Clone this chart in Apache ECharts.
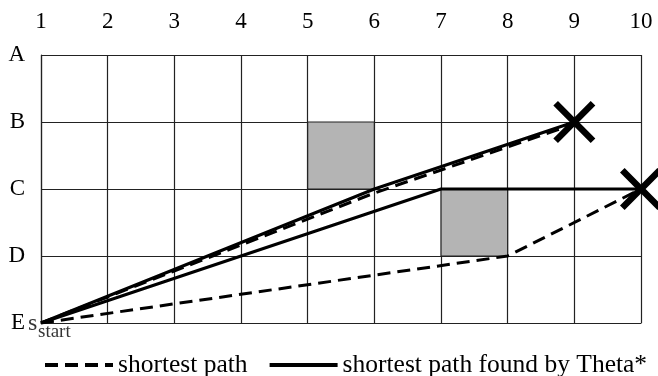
<!DOCTYPE html>
<html>
<head>
<meta charset="utf-8">
<script src="https://cdn.jsdelivr.net/npm/echarts@6/dist/echarts.min.js"></script>
<style>
  html, body { margin: 0; padding: 0; background: #fff; }
  #chart { width: 658px; height: 376px; }
</style>
</head>
<body>
<div id="chart"></div>
<script>
// Grid world: columns 1..10, rows E (0) .. A (4)
const columnLabels = ['1', '2', '3', '4', '5', '6', '7', '8', '9', '10'];
const rowLabels = ['E', 'D', 'C', 'B', 'A'];

// Blocked cells, given by their lower-left corner [column, row]
const blockedCells = [[5, 2], [7, 1]];

// Paths from the start vertex (column 1, row E)
const shortestPathToB9 = [[1, 0], [6, 1.94], [9, 2.97]];
const shortestPathToC10 = [[1, 0], [8, 1], [10, 2]];
const thetaPathToB9 = [[1, 0], [6, 2], [9, 3]];
const thetaPathToC10 = [[1, 0], [7, 2], [10, 2]];

// Goal vertices
const goals = [[9, 3], [10, 2]];
const startVertex = [1, 0];

const FONT = "'Liberation Serif', 'Times New Roman', serif";
const DASHED = 'shortest path';
const SOLID = 'shortest path found by Theta*';

// Thick "X" outline in a 100x100 box
const a = 11;
const crossPath = 'path://M' + [
  [a, 0], [50, 50 - a], [100 - a, 0], [100, a], [50 + a, 50], [100, 100 - a],
  [100 - a, 100], [50, 50 + a], [a, 100], [0, 100 - a], [50 - a, 50], [0, a]
].map(p => p.join(',')).join('L') + 'Z';

const chart = echarts.init(document.getElementById('chart'), null, { renderer: 'canvas' });

const gridLine = { show: true, lineStyle: { color: '#222', width: 1.2 } };

const option = {
  animation: false,
  textStyle: { fontFamily: FONT, color: '#000' },
  grid: { left: 41, right: 17, top: 55, bottom: 53, containLabel: false },
  xAxis: {
    type: 'value', position: 'top', min: 1, max: 10, interval: 1,
    axisLine: { show: true, lineStyle: { color: '#222', width: 1.2 } },
    axisTick: { show: false },
    splitLine: gridLine,
    axisLabel: {
      margin: 22, fontSize: 23, color: '#000', fontFamily: FONT,
      formatter: v => columnLabels[v - 1] || ''
    }
  },
  yAxis: {
    type: 'value', min: 0, max: 4, interval: 1,
    axisLine: { show: true, lineStyle: { color: '#222', width: 1.2 } },
    axisTick: { show: false },
    splitLine: gridLine,
    axisLabel: {
      margin: 16, fontSize: 23, color: '#000', fontFamily: FONT,
      formatter: v => rowLabels[v] || ''
    }
  },
  legend: {
    left: 43, top: 352, width: 640, padding: 0,
    itemWidth: 68, itemHeight: 14, itemGap: 20,
    data: [DASHED, SOLID],
    itemStyle: { opacity: 0 },
    lineStyle: { width: 4 },
    textStyle: { fontSize: 25.5, fontFamily: FONT, color: '#000' }
  },
  series: [
    {
      type: 'custom', z: 1, silent: true,
      data: blockedCells,
      renderItem: function (params, api) {
        const p0 = api.coord([api.value(0), api.value(1) + 1]);
        const p1 = api.coord([api.value(0) + 1, api.value(1)]);
        return {
          type: 'rect',
          shape: { x: p0[0], y: p0[1], width: p1[0] - p0[0], height: p1[1] - p0[1] },
          style: { fill: '#b4b4b4', stroke: '#222', lineWidth: 1.2 }
        };
      }
    },
    {
      name: DASHED, type: 'line', data: shortestPathToB9, symbol: 'none', z: 3,
      itemStyle: { color: '#000' },
      lineStyle: { color: '#000', width: 3, type: [13, 7] }
    },
    {
      name: DASHED, type: 'line', data: shortestPathToC10, symbol: 'none', z: 3,
      itemStyle: { color: '#000' },
      lineStyle: { color: '#000', width: 3, type: [13, 7] }
    },
    {
      name: SOLID, type: 'line', data: thetaPathToB9, symbol: 'none', z: 4,
      itemStyle: { color: '#000' },
      lineStyle: { color: '#000', width: 3 }
    },
    {
      name: SOLID, type: 'line', data: thetaPathToC10, symbol: 'none', z: 4,
      itemStyle: { color: '#000' },
      lineStyle: { color: '#000', width: 3 }
    },
    {
      type: 'scatter', data: goals, symbol: crossPath, symbolSize: 42, z: 5, clip: false,
      itemStyle: { color: '#000', opacity: 1 }, silent: true
    },
    {
      type: 'scatter', symbolSize: 0, z: 5, clip: false, silent: true,
      data: [
        { value: startVertex, label: { show: true, formatter: 's', position: 'inside', offset: [-13, 1], align: 'left', fontSize: 24 } },
        { value: startVertex, label: { show: true, formatter: 'start', position: 'inside', offset: [-3, 9], align: 'left', fontSize: 19 } }
      ],
      label: { color: '#000', fontFamily: FONT, verticalAlign: 'middle' }
    }
  ]
};

chart.setOption(option);
</script>
</body>
</html>
